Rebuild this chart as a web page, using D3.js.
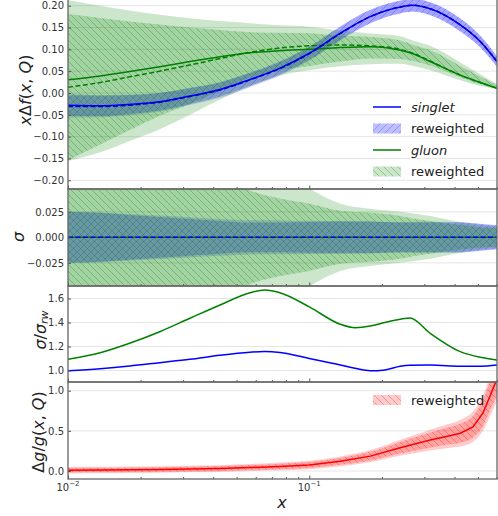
<!DOCTYPE html>
<html>
<head>
<meta charset="utf-8">
<script src="https://cdn.jsdelivr.net/npm/d3@7"></script>
<style>
body { margin: 0; background: #fff; }
svg { display: block; font-family: "DejaVu Sans", sans-serif; }
</style>
</head>
<body>
<script>
// x grid shared by the pdf panels
var xs = [0.01, 0.0136, 0.018, 0.024, 0.032, 0.0427, 0.0568, 0.0756, 0.1, 0.1345, 0.179, 0.2383, 0.269, 0.3172, 0.4224, 0.5112, 0.6];

// top panel: x*Delta f
var singlet = [-0.028, -0.029, -0.026, -0.020, -0.007, 0.008, 0.031, 0.057, 0.091, 0.137, 0.175, 0.197, 0.201, 0.193, 0.156, 0.118, 0.072];
var singletOrig = [-0.031, -0.031, -0.028, -0.021, -0.008, 0.007, 0.030, 0.056, 0.090, 0.136, 0.175, 0.197, 0.201, 0.193, 0.156, 0.118, 0.072];
var gluon = [0.030, 0.039, 0.049, 0.060, 0.072, 0.083, 0.092, 0.097, 0.100, 0.104, 0.106, 0.098, 0.090, 0.072, 0.041, 0.024, 0.011];
var gluonOrig = [0.013, 0.024, 0.037, 0.050, 0.064, 0.079, 0.093, 0.103, 0.108, 0.110, 0.108, 0.100, 0.091, 0.073, 0.041, 0.024, 0.011];
var gluonRwLo = [-0.154, -0.118, -0.085, -0.052, -0.025, 0.005, 0.035, 0.052, 0.062, 0.072, 0.079, 0.078, 0.073, 0.063, 0.036, 0.020, 0.011];
var gluonRwHi = [0.181, 0.172, 0.164, 0.157, 0.150, 0.144, 0.139, 0.138, 0.137, 0.131, 0.128, 0.120, 0.110, 0.098, 0.062, 0.038, 0.018];
var gluonLo = [-0.156, -0.136, -0.110, -0.083, -0.050, -0.015, 0.015, 0.040, 0.052, 0.061, 0.066, 0.067, 0.062, 0.052, 0.029, 0.016, 0.009];
var gluonHi = [0.213, 0.200, 0.189, 0.179, 0.171, 0.165, 0.160, 0.155, 0.152, 0.143, 0.136, 0.130, 0.120, 0.108, 0.070, 0.043, 0.020];

// second panel: sigma
var singletSigRw = [0.025, 0.024, 0.022, 0.020, 0.018, 0.016, 0.0145, 0.0145, 0.015, 0.0155, 0.0155, 0.0145, 0.0145, 0.0145, 0.0145, 0.013, 0.0115];
var singletSig = [0.025, 0.0244, 0.0228, 0.0213, 0.0197, 0.018, 0.0167, 0.0166, 0.0163, 0.016, 0.0155, 0.0149, 0.015, 0.0152, 0.015, 0.0134, 0.012];
var gluonSigRw = [0.167, 0.145, 0.124, 0.104, 0.087, 0.062, 0.046, 0.038, 0.033, 0.026, 0.024, 0.021, 0.0185, 0.016, 0.012, 0.010, 0.009];
var gluonSig = [0.182, 0.165, 0.150, 0.135, 0.122, 0.108, 0.086, 0.066, 0.048, 0.033, 0.028, 0.025, 0.0235, 0.021, 0.015, 0.012, 0.0105];

// third panel: sigma / sigma_rw
var ratioX = [0.01, 0.0136, 0.018, 0.024, 0.032, 0.0427, 0.0568, 0.0655, 0.0756, 0.1, 0.1345, 0.1547, 0.179, 0.2059, 0.2383, 0.2614, 0.3172, 0.4224, 0.5112, 0.6];
var gluonRatio = [1.093, 1.148, 1.227, 1.323, 1.435, 1.546, 1.648, 1.670, 1.648, 1.530, 1.385, 1.357, 1.370, 1.400, 1.427, 1.438, 1.310, 1.157, 1.110, 1.088];
var singletRatio = [0.998, 1.015, 1.037, 1.065, 1.093, 1.127, 1.152, 1.158, 1.150, 1.100, 1.046, 1.018, 0.998, 1.005, 1.035, 1.043, 1.045, 1.036, 1.035, 1.045];

// bottom panel: Delta g / g
var redX = [0.01, 0.0136, 0.018, 0.024, 0.032, 0.0427, 0.0568, 0.0756, 0.1, 0.1345, 0.179, 0.2383, 0.3172, 0.3828, 0.4224, 0.4769, 0.5245, 0.5609, 0.6];
var dgg = [0.010, 0.012, 0.015, 0.019, 0.024, 0.031, 0.043, 0.057, 0.075, 0.120, 0.185, 0.290, 0.385, 0.440, 0.470, 0.550, 0.720, 0.930, 1.150];
var dggErr = [0.040, 0.040, 0.040, 0.040, 0.041, 0.042, 0.044, 0.048, 0.052, 0.060, 0.075, 0.100, 0.130, 0.150, 0.165, 0.190, 0.220, 0.250, 0.280];
var dggErrRw = [0.028, 0.028, 0.028, 0.028, 0.029, 0.030, 0.031, 0.034, 0.037, 0.043, 0.054, 0.072, 0.094, 0.108, 0.118, 0.135, 0.160, 0.180, 0.200];

// tick labels
var ticks1 = [-0.20, -0.15, -0.10, -0.05, 0.00, 0.05, 0.10, 0.15, 0.20];
var ticks2 = [-0.025, 0.000, 0.025];
var ticks3 = [1.0, 1.2, 1.4, 1.6];
var ticks4 = [0.0, 0.5, 1.0];
var xMajor = [0.01, 0.1];
var xMinor = [0.02, 0.03, 0.04, 0.05, 0.06, 0.07, 0.08, 0.09, 0.2, 0.3, 0.4, 0.5, 0.6];

var scr = { w: 498, h: 516 };
var left = 68, right = 497;
var svg = d3.select('body').append('svg')
    .attr('width', scr.w)
    .attr('height', scr.h);

var x = d3.scaleLog().domain([0.01, 0.6]).range([left, right]);

var defs = svg.append('defs');
function hatch(id, color, back, op) {
    var p = defs.append('pattern')
        .attr('id', id)
        .attr('patternUnits', 'userSpaceOnUse')
        .attr('width', 7).attr('height', 7);
    var d = back ? 'M0,0L7,7M-1,6L1,8M6,-1L8,1' : 'M0,7L7,0M-1,1L1,-1M6,8L8,6';
    p.append('path').attr('d', d)
        .attr('stroke', color).attr('stroke-opacity', op).attr('stroke-width', 1);
}
hatch('hb', 'blue', false, 0.22);
hatch('hg', 'green', true, 0.3);
hatch('hr', 'red', true, 0.3);

var panels = [
    { top: -1, bottom: 189, domain: [-0.22, 0.2153], ticks: ticks1, fmt: d3.format('.2f') },
    { top: 189, bottom: 286, domain: [-0.0477, 0.0474], ticks: ticks2, fmt: d3.format('.3f') },
    { top: 286, bottom: 382, domain: [0.904, 1.704], ticks: ticks3, fmt: d3.format('.1f') },
    { top: 382, bottom: 479, domain: [-0.0996, 1.108], ticks: ticks4, fmt: d3.format('.1f') }
];

panels.forEach(function(p, i) {
    p.y = d3.scaleLinear().domain(p.domain).range([p.bottom, p.top]);
    defs.append('clipPath').attr('id', 'clip' + i)
        .append('rect')
        .attr('x', left).attr('y', p.top)
        .attr('width', right - left).attr('height', p.bottom - p.top);
    // grid
    svg.append('g').selectAll('line')
        .data(p.ticks).enter().append('line')
        .attr('x1', left).attr('x2', right)
        .attr('y1', function(d) { return p.y(d); })
        .attr('y2', function(d) { return p.y(d); })
        .attr('stroke', '#e6e6e6').attr('stroke-width', 1);
    p.g = svg.append('g').attr('clip-path', 'url(#clip' + i + ')');
});

function area(p, xv, lo, hi, curve) {
    return d3.area()
        .x(function(d, i) { return x(xv[i]); })
        .y0(function(d, i) { return p.y(lo(i)); })
        .y1(function(d, i) { return p.y(hi(i)); })
        .curve(curve || d3.curveMonotoneX)(xv);
}
function line(p, xv, v, curve) {
    return d3.line()
        .x(function(d, i) { return x(xv[i]); })
        .y(function(d, i) { return p.y(v[i]); })
        .curve(curve || d3.curveMonotoneX)(xv);
}
function drawBand(p, xv, lo, hi, color, op, pat) {
    var d = area(p, xv, lo, hi);
    p.g.append('path').attr('d', d).attr('fill', color).attr('fill-opacity', op);
    if (pat) p.g.append('path').attr('d', d).attr('fill', 'url(#' + pat + ')');
}
function drawLine(p, xv, v, color, dash, curve) {
    p.g.append('path').attr('d', line(p, xv, v, curve))
        .attr('fill', 'none').attr('stroke', color).attr('stroke-width', 1.5)
        .attr('stroke-dasharray', dash ? '5,2.5' : null);
}

// panel 1: blue bands under the green ones
var p1 = panels[0];
drawBand(p1, xs, function(i) { return singletOrig[i] - singletSig[i]; }, function(i) { return singletOrig[i] + singletSig[i]; }, 'blue', 0.17);
drawBand(p1, xs, function(i) { return singlet[i] - singletSigRw[i]; }, function(i) { return singlet[i] + singletSigRw[i]; }, 'blue', 0.22, 'hb');
drawBand(p1, xs, function(i) { return gluonLo[i]; }, function(i) { return gluonHi[i]; }, 'green', 0.2);
drawBand(p1, xs, function(i) { return gluonRwLo[i]; }, function(i) { return gluonRwHi[i]; }, 'green', 0.2, 'hg');
drawLine(p1, xs, gluonOrig, 'green', true);
drawLine(p1, xs, gluon, 'green');
drawLine(p1, xs, singlet, 'blue');
drawLine(p1, xs, singletOrig, '#0000cc', true);

// panel 2
var p2 = panels[1];
drawBand(p2, xs, function(i) { return -singletSig[i]; }, function(i) { return singletSig[i]; }, 'blue', 0.17);
drawBand(p2, xs, function(i) { return -singletSigRw[i]; }, function(i) { return singletSigRw[i]; }, 'blue', 0.22, 'hb');
drawBand(p2, xs, function(i) { return -gluonSig[i]; }, function(i) { return gluonSig[i]; }, 'green', 0.2);
drawBand(p2, xs, function(i) { return -gluonSigRw[i]; }, function(i) { return gluonSigRw[i]; }, 'green', 0.2, 'hg');
var zeros = xs.map(function() { return 0; });
drawLine(p2, xs, zeros, 'green');
drawLine(p2, xs, zeros, 'blue', true);

// panel 3
var p3 = panels[2];
drawLine(p3, ratioX, gluonRatio, 'green');
drawLine(p3, ratioX, singletRatio, 'blue');

// panel 4
var p4 = panels[3];
drawBand(p4, redX, function(i) { return dgg[i] - dggErr[i]; }, function(i) { return dgg[i] + dggErr[i]; }, 'red', 0.2);
drawBand(p4, redX, function(i) { return dgg[i] - dggErrRw[i]; }, function(i) { return dgg[i] + dggErrRw[i]; }, 'red', 0.2, 'hr');
drawLine(p4, redX, dgg, 'red', false, d3.curveLinear);

// axes, spines and ticks
panels.forEach(function(p, i) {
    var ya = svg.append('g')
        .attr('transform', 'translate(' + left + ',0)')
        .call(d3.axisLeft(p.y).tickValues(p.ticks).tickFormat(p.fmt).tickSize(-3).tickPadding(4));
    ya.select('.domain').remove();
    ya.selectAll('line').attr('stroke', '#555');
    ya.selectAll('text').attr('font-size', 10).attr('fill', '#333')
        .attr('font-family', '"DejaVu Sans", sans-serif');

    var xMin = svg.append('g')
        .attr('transform', 'translate(0,' + p.bottom + ')')
        .call(d3.axisBottom(x).tickValues(xMinor).tickFormat('').tickSize(-2));
    xMin.select('.domain').remove();
    xMin.selectAll('line').attr('stroke', '#555');
    var xMaj = svg.append('g')
        .attr('transform', 'translate(0,' + p.bottom + ')')
        .call(d3.axisBottom(x).tickValues(xMajor).tickFormat('').tickSize(-3.5));
    xMaj.select('.domain').remove();
    xMaj.selectAll('line').attr('stroke', '#555');

    svg.append('rect')
        .attr('x', left).attr('y', p.top)
        .attr('width', right - left).attr('height', p.bottom - p.top)
        .attr('fill', 'none').attr('stroke', '#666').attr('stroke-width', 1.3);
});

// x tick labels
var xl = svg.append('g').selectAll('text')
    .data(xMajor).enter().append('text')
    .attr('x', function(d) { return x(d); })
    .attr('y', 491)
    .attr('text-anchor', 'middle')
    .attr('font-size', 10).attr('fill', '#333');
xl.append('tspan').text('10');
xl.append('tspan').attr('dy', -5).attr('font-size', 7)
    .text(function(d) { return '\u2212' + Math.round(-Math.log10(d)); });

// axis labels
function label(xp, yp, parts) {
    var t = svg.append('text')
        .attr('transform', 'translate(' + xp + ',' + yp + ') rotate(-90)')
        .attr('text-anchor', 'middle')
        .attr('dominant-baseline', 'central')
        .attr('font-size', 16).attr('fill', '#222');
    parts.forEach(function(s) {
        var ts = t.append('tspan').text(s[0]);
        if (s[1]) ts.attr('font-style', 'italic');
        if (s[2]) ts.attr('font-size', 11).attr('dy', s[2]);
    });
    return t;
}
label(25, 90, [['x', 1], ['\u0394'], ['f', 1], ['('], ['x', 1], [', '], ['Q', 1], [')']]);
label(18, 237, [['\u03c3', 1]]);
label(40, 330, [['\u03c3', 1], ['/'], ['\u03c3', 1], ['rw', 1, 4]]);
label(38, 432, [['\u0394'], ['g', 1], ['/'], ['g', 1], ['('], ['x', 1], [', '], ['Q', 1], [')']]);

svg.append('text')
    .attr('x', 282).attr('y', 508)
    .attr('text-anchor', 'middle')
    .attr('font-size', 16).attr('font-style', 'italic').attr('fill', '#222')
    .text('x');

// legends
var legend1 = [
    { label: 'singlet', color: 'blue', italic: true },
    { label: 'reweighted', color: 'blue', pat: 'hb', op: 0.25 },
    { label: 'gluon', color: 'green', italic: true },
    { label: 'reweighted', color: 'green', pat: 'hg', op: 0.2 }
];
function legend(items, y0) {
    items.forEach(function(it, i) {
        var cy = y0 + i * 21.5;
        if (it.pat) {
            svg.append('rect').attr('x', 373).attr('y', cy - 5).attr('width', 28).attr('height', 10)
                .attr('fill', it.color).attr('fill-opacity', it.op);
            svg.append('rect').attr('x', 373).attr('y', cy - 5).attr('width', 28).attr('height', 10)
                .attr('fill', 'url(#' + it.pat + ')');
        } else {
            svg.append('line').attr('x1', 373).attr('x2', 401).attr('y1', cy).attr('y2', cy)
                .attr('stroke', it.color).attr('stroke-width', 1.5);
        }
        svg.append('text').attr('x', 411).attr('y', cy + 4.5)
            .attr('font-size', 13).attr('fill', '#222')
            .attr('font-style', it.italic ? 'italic' : null)
            .text(it.label);
    });
}
legend(legend1, 107);
legend([{ label: 'reweighted', color: 'red', pat: 'hr', op: 0.2 }], 400);
</script>
</body>
</html>
